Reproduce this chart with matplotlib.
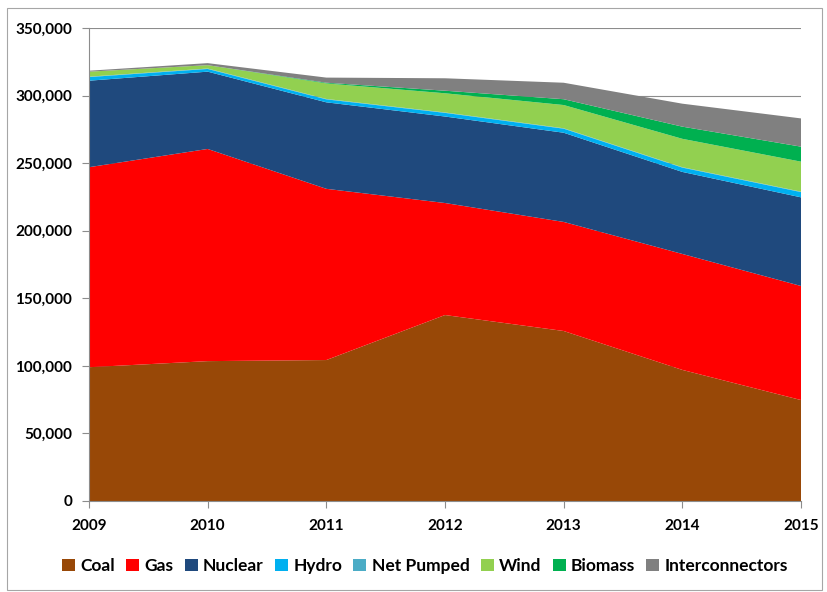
import matplotlib
matplotlib.use("Agg")
import matplotlib.pyplot as plt
from matplotlib.patches import Rectangle, Patch
from matplotlib.ticker import FuncFormatter

plt.rcParams['font.family'] = ['Lato', 'DejaVu Sans']

# Electricity supplied by source (GWh)
years = [2009, 2010, 2011, 2012, 2013, 2014, 2015]
coal = [99000, 103500, 104300, 137600, 125800, 97000, 74700]
gas = [148000, 157000, 126700, 82900, 80700, 85800, 84400]
nuclear = [64000, 57200, 64000, 64000, 66000, 60700, 65600]
hydro = [2700, 2000, 2200, 2700, 3000, 3200, 3900]
net_pumped = [300, 300, 300, 300, 300, 300, 300]
wind = [3700, 2500, 11500, 14200, 17200, 21000, 22200]
biomass = [0, 0, 500, 1900, 4300, 9000, 11100]
interconnectors = [700, 1500, 3800, 9200, 12200, 17000, 20900]

series_names = ["Coal", "Gas", "Nuclear", "Hydro", "Net Pumped", "Wind",
                "Biomass", "Interconnectors"]
series_colors = ["#984807", "#FF0000", "#1F497D", "#00B0F0", "#4BACC6",
                 "#92D050", "#00B050", "#808080"]
y_ticks = [0, 50000, 100000, 150000, 200000, 250000, 300000, 350000]

fig = plt.figure(figsize=(8.27, 5.92), dpi=100)
ax = fig.add_axes([89 / 827, 1 - 501 / 592, (801 - 89) / 827, (501 - 28) / 592])

ax.stackplot(years, coal, gas, nuclear, hydro, net_pumped, wind, biomass,
             interconnectors, colors=series_colors, linewidth=0, zorder=2)

ax.set_xlim(years[0], years[-1])
ax.set_ylim(0, 350000)
ax.set_xticks(years)
ax.set_yticks(y_ticks)
ax.yaxis.set_major_formatter(FuncFormatter(lambda v, p: f"{int(v):,}"))

ax.grid(axis='y', color='#8C8C8C', linewidth=0.8, zorder=1)
ax.set_axisbelow(True)
for side in ['top', 'right']:
    ax.spines[side].set_visible(False)
for side in ['left', 'bottom']:
    ax.spines[side].set_color('#8C8C8C')
    ax.spines[side].set_linewidth(0.8)
    ax.spines[side].set_zorder(3)

ax.tick_params(axis='both', direction='out', length=5, width=0.8,
               color='#8C8C8C', labelsize=11)
ax.tick_params(axis='y', pad=7)
ax.tick_params(axis='x', pad=8)
for lab in ax.get_xticklabels() + ax.get_yticklabels():
    lab.set_fontweight('bold')

handles = [Patch(facecolor=c, edgecolor='none') for c in series_colors]
fig.legend(handles, series_names, loc='center', bbox_to_anchor=(0.514, 1 - 566 / 592),
           ncol=8, frameon=False, handlelength=0.75, handleheight=0.75,
           handletextpad=0.3, columnspacing=0.65, prop={'size': 12.5, 'weight': 'bold'})

# outer frame around the chart area
fig.patches.append(Rectangle((7 / 827, 2 / 592), 815 / 827, 582 / 592,
                             transform=fig.transFigure, fill=False,
                             edgecolor='#A6A6A6', linewidth=0.8))

fig.savefig("out.png", dpi=100, facecolor='white')
